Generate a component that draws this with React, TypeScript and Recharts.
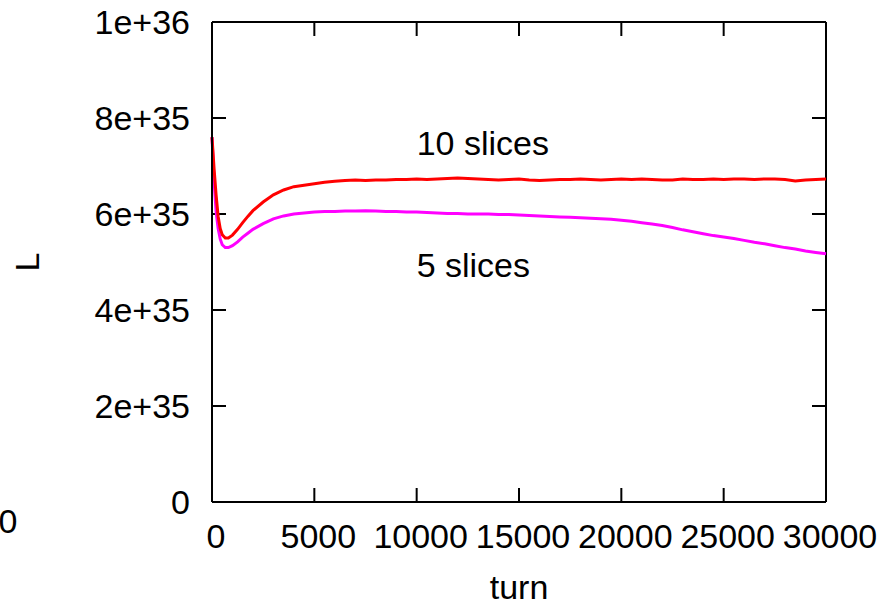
import React from 'react';
import { LineChart, Line, XAxis, YAxis, ReferenceDot, ReferenceLine } from 'recharts';

const turns = [
  0, 100, 200, 300, 400, 500, 650, 800, 1000, 1250, 1500, 1750, 2000, 2500, 3000, 3500, 4000, 4500,
  5000, 5500, 6000, 6500, 7000, 7500, 8000, 8500, 9000, 9500, 10000, 10500, 11000, 11500, 12000,
  12500, 13000, 13500, 14000, 14500, 15000, 15500, 16000, 16500, 17000, 17500, 18000, 18500, 19000,
  19500, 20000, 20500, 21000, 21500, 22000, 22500, 23000, 23500, 24000, 24500, 25000, 25500, 26000,
  26500, 27000, 27500, 28000, 28500, 29000, 29500, 30000,
];

// values in units of 1e35
const tenSlices = [
  7.6, 6.95, 6.4, 5.95, 5.7, 5.57, 5.5, 5.5, 5.56, 5.68, 5.82, 5.95, 6.07, 6.25, 6.4, 6.5, 6.57, 6.6,
  6.63, 6.66, 6.68, 6.7, 6.71, 6.7, 6.71, 6.71, 6.72, 6.72, 6.73, 6.72, 6.73, 6.74, 6.75,
  6.74, 6.73, 6.72, 6.71, 6.72, 6.73, 6.71, 6.7, 6.71, 6.72, 6.72, 6.73, 6.72, 6.71,
  6.72, 6.73, 6.72, 6.73, 6.72, 6.71, 6.71, 6.73, 6.72, 6.72, 6.73, 6.72, 6.73, 6.73,
  6.72, 6.73, 6.73, 6.72, 6.69, 6.71, 6.72, 6.73,
];

const fiveSlices = [
  7.6, 6.7, 6.05, 5.7, 5.48, 5.36, 5.3, 5.3, 5.34, 5.42, 5.52, 5.6, 5.68, 5.8, 5.9, 5.96, 6.0, 6.02,
  6.04, 6.05, 6.05, 6.06, 6.06, 6.07, 6.06, 6.05, 6.05, 6.04, 6.04, 6.03, 6.02, 6.01, 6.01,
  6.0, 6.0, 6.0, 5.99, 5.99, 5.98, 5.97, 5.96, 5.95, 5.94, 5.93, 5.92, 5.91, 5.9,
  5.89, 5.87, 5.85, 5.82, 5.79, 5.76, 5.72, 5.67, 5.63, 5.59, 5.55, 5.52, 5.49, 5.45,
  5.41, 5.38, 5.34, 5.3, 5.27, 5.23, 5.2, 5.17,
];

const xTicks = [0, 5000, 10000, 15000, 20000, 25000, 30000];
const yTicks = [0, 2e35, 4e35, 6e35, 8e35, 1e36];
const yTickLabels = ['0', '2e+35', '4e+35', '6e+35', '8e+35', '1e+36'];

const X_MAX = 30000;
const Y_MAX = 1e36;

const seriesLabels = [
  { text: '10 slices', x: 10000, y: 7.23e35 },
  { text: '5 slices', x: 10000, y: 4.69e35 },
];

const data = turns.map((t, i) => ({
  turn: t,
  ten: tenSlices[i] * 1e35,
  five: fiveSlices[i] * 1e35,
}));

// inward tick length (~14px) expressed in axis units
const TICK_X = (14 / 614) * X_MAX;
const TICK_Y = (14 / 480) * Y_MAX;

const FONT = '"Liberation Sans", Arial, sans-serif';
const FS = 34;
const tickStyle = { fill: '#000', fontSize: FS, fontFamily: FONT };
const frame = { stroke: '#000', strokeWidth: 2 };

export default function App() {
  const innerX = xTicks.filter((t) => t > 0 && t < X_MAX);
  const innerY = yTicks.filter((t) => t > 0 && t < Y_MAX);
  return (
    <div style={{ position: 'absolute', left: 0, top: 0, width: 891, height: 604, background: '#fff' }}>
      <LineChart
        width={891}
        height={604}
        data={data}
        margin={{ top: 22, right: 65, bottom: 0, left: 0 }}
      >
        <XAxis
          dataKey="turn"
          type="number"
          domain={[0, X_MAX]}
          ticks={xTicks}
          interval={0}
          height={102}
          stroke="#000"
          strokeWidth={2}
          tickLine={false}
          tickSize={0}
          tickMargin={22}
          tick={{ ...tickStyle, dx: 4 }}
          label={{ value: 'turn', position: 'insideBottom', offset: 5, fill: '#000', fontSize: FS, fontFamily: FONT }}
        />
        <YAxis
          type="number"
          domain={[0, Y_MAX]}
          ticks={yTicks}
          interval={0}
          width={212}
          stroke="#000"
          strokeWidth={2}
          tickLine={false}
          tickSize={0}
          tickMargin={22}
          tick={tickStyle}
          tickFormatter={(v: number) => yTickLabels[yTicks.indexOf(v)] ?? String(v)}
          label={{
            value: 'L',
            content: (props: any) => {
              const vb = props.viewBox || { x: 0, y: 22, width: 212, height: 480 };
              const cx = vb.x + 27;
              const cy = vb.y + vb.height / 2;
              return (
                <text
                  x={cx}
                  y={cy}
                  transform={`rotate(-90, ${cx}, ${cy})`}
                  textAnchor="middle"
                  dominantBaseline="central"
                  fill="#000"
                  fontSize={FS}
                  fontFamily={FONT}
                >
                  L
                </text>
              );
            },
          }}
        />
        <ReferenceLine y={Y_MAX} {...frame} />
        <ReferenceLine x={X_MAX} {...frame} />
        {innerX.map((t) => (
          <ReferenceLine key={'bx' + t} segment={[{ x: t, y: 0 }, { x: t, y: TICK_Y }]} {...frame} />
        ))}
        {innerX.map((t) => (
          <ReferenceLine key={'tx' + t} segment={[{ x: t, y: Y_MAX }, { x: t, y: Y_MAX - TICK_Y }]} {...frame} />
        ))}
        {innerY.map((v) => (
          <ReferenceLine key={'ly' + v} segment={[{ x: 0, y: v }, { x: TICK_X, y: v }]} {...frame} />
        ))}
        {innerY.map((v) => (
          <ReferenceLine key={'ry' + v} segment={[{ x: X_MAX, y: v }, { x: X_MAX - TICK_X, y: v }]} {...frame} />
        ))}
        <Line
          type="linear"
          dataKey="five"
          stroke="#ff00ff"
          strokeWidth={3}
          dot={false}
          isAnimationActive={false}
        />
        <Line
          type="linear"
          dataKey="ten"
          stroke="#ff0000"
          strokeWidth={3}
          dot={false}
          isAnimationActive={false}
        />
        {seriesLabels.map((l) => (
          <ReferenceDot
            key={l.text}
            x={l.x}
            y={l.y}
            r={0}
            shape={(p: any) => (
              <text x={p.cx} y={p.cy} fill="#000" fontSize={FS} fontFamily={FONT} textAnchor="start">
                {l.text}
              </text>
            )}
          />
        ))}
      </LineChart>
      <svg width={40} height={40} style={{ position: 'absolute', left: 0, top: 500 }}>
        <text x={8} y={33} textAnchor="middle" fill="#000" fontSize={FS} fontFamily={FONT}>
          0
        </text>
      </svg>
    </div>
  );
}
